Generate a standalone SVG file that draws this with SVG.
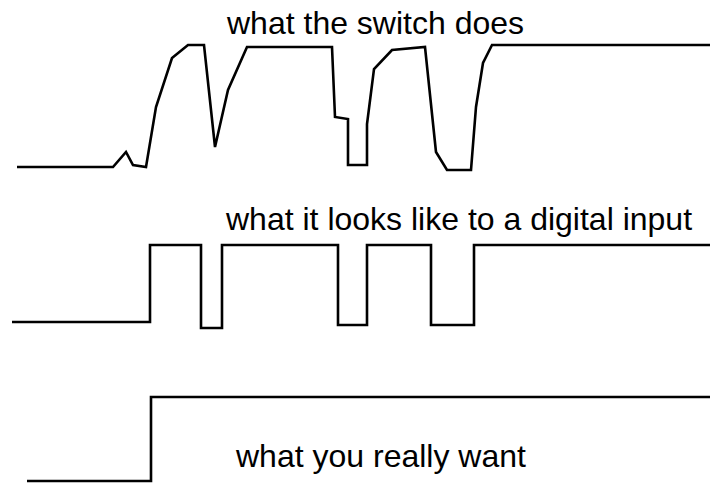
<svg xmlns="http://www.w3.org/2000/svg" width="710" height="483" viewBox="0 0 710 483">
<style>
.w{fill:none;stroke:#000;stroke-width:2.6;stroke-linejoin:miter}
.t{font-family:"Liberation Sans",Arial,sans-serif;font-size:32px;fill:#000}
</style>
<rect width="710" height="483" fill="#fff"/>
<g id="switch">
<text class="t" x="227" y="34">what the switch does</text>
<polyline class="w" points="17,167 113,167 126,152 133,165 146,167 156,107 172,58 188,45 204,45 215,147 228,90 247,47 332,47 335,117 348,119 348,165 367,165 367,124 374,69 392,50 425,47 436,152 447,170 471,170 476,107 483,63 492,45 710,45"/>
</g>
<g id="digital">
<text class="t" x="226" y="230">what it looks like to a digital input</text>
<polyline class="w" points="12,322 150,322 150,245 201,245 201,328 222,328 222,245 338,245 338,325 367,325 367,245 431,245 431,325 474,325 474,245 710,245"/>
</g>
<g id="want">
<text class="t" x="236" y="467">what you really want</text>
<polyline class="w" points="27,481 151,481 151,397 710,397"/>
</g>
</svg>
